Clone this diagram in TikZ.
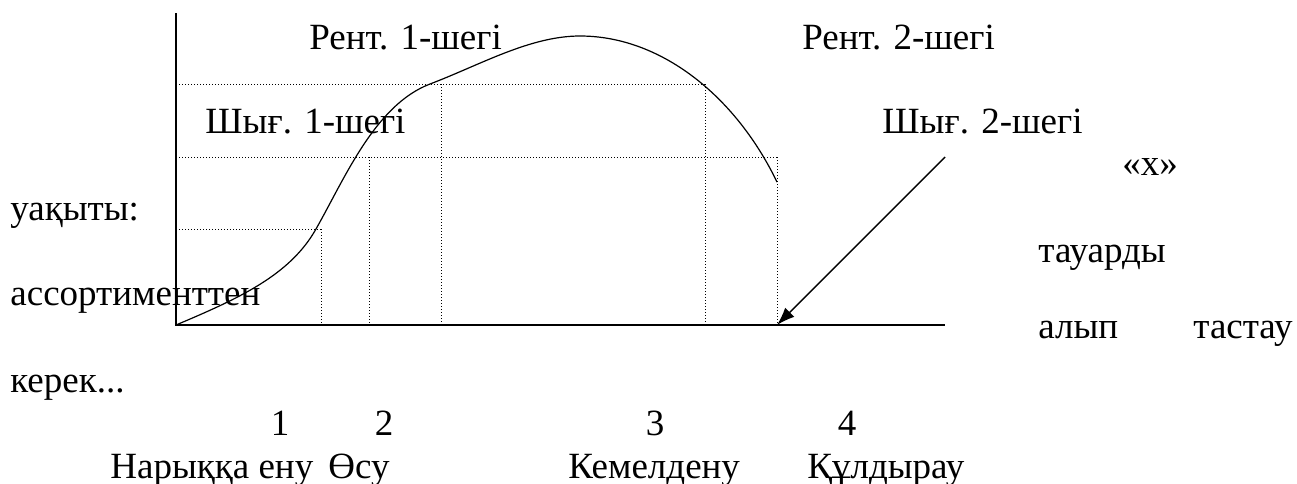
\documentclass[tikz,border=0pt]{standalone}
\usepackage{fontspec}
\setmainfont{Liberation Serif}
\newfontfamily\kzfont{Liberation Serif}
\usepackage{tikz}
\usetikzlibrary{arrows.meta, positioning}

\begin{document}
\begin{tikzpicture}[
x=0.5pt, y=-0.5pt,
lbl/.style={anchor=base west, inner sep=0pt, font=\kzfont\fontsize{18.5}{22}\selectfont},
num/.style={anchor=base, inner sep=0pt, font=\kzfont\fontsize{18.5}{22}\selectfont},
axis/.style={line width=0.7pt},
curve/.style={line width=0.6pt},
guide/.style={line width=0.5pt, dash pattern=on 0.6pt off 0.9pt},
arrow/.style={-{Latex[length=9pt, width=6.5pt]}, line width=0.7pt}
]
\useasboundingbox (0,0) rectangle (1297,483);

% axes
\coordinate (origin) at (176,325);
\coordinate (ytop) at (176,13);
\coordinate (xend) at (945,325);
\draw[axis] (ytop) -- (origin) -- (xend);

% guide lines
\draw[guide] (176,84) -- (705,84);
\draw[guide] (176,157) -- (777,157);
\draw[guide] (176,229) -- (321,229);
\draw[guide] (321,229) -- (321,325);
\draw[guide] (369,157) -- (369,325);
\draw[guide] (441,84) -- (441,325);
\draw[guide] (705,84) -- (705,325);
\draw[guide] (777,157) -- (777,325);

% life cycle curve
\draw[curve] (origin) .. controls (240,298) and (290,275) .. (316,229)
  .. controls (345,178) and (375,105) .. (430,84)
  .. controls (480,65) and (530,36) .. (580,36)
  .. controls (660,36) and (735,95) .. (777,182);

% labels
\node[lbl] (rentone) at (309,49) {Рент. 1-шегі};
\node[lbl] (renttwo) at (802,49) {Рент. 2-шегі};
\node[lbl] (shygone) at (205,133) {Шығ. 1-шегі};
\node[lbl] (shygtwo) at (882,133) {Шығ. 2-шегі};
\node[lbl] (xname) at (1122,175) {«х»};
\node[lbl] (uaqyty) at (10,220) {уақыты:};
\node[lbl] (tauar) at (1038,262) {тауарды};
\node[lbl] (assort) at (10,305) {ассортименттен};
\node[lbl] (alyp) at (1038,338) {алып};
\node[lbl] (tastau) at (1193,338) {тастау};
\node[lbl] (kerek) at (10,392) {керек...};

% stages
\node[num] (sone) at (280,435) {1};
\node[num] (stwo) at (384,435) {2};
\node[num] (sthree) at (655,435) {3};
\node[num] (sfour) at (847,435) {4};
\node[lbl] (entry) at (110,478) {Нарыққа ену};
\node[lbl] (growth) at (328,478) {Өсу};
\node[lbl] (mature) at (568,478) {Кемелдену};
\node[lbl] (decline) at (807,478) {Құлдырау};

% exit arrow
\coordinate (arrstart) at (945,157);
\coordinate (exitpt) at (777,325);
\draw[arrow] (arrstart) -- (exitpt);

\end{tikzpicture}
\end{document}
